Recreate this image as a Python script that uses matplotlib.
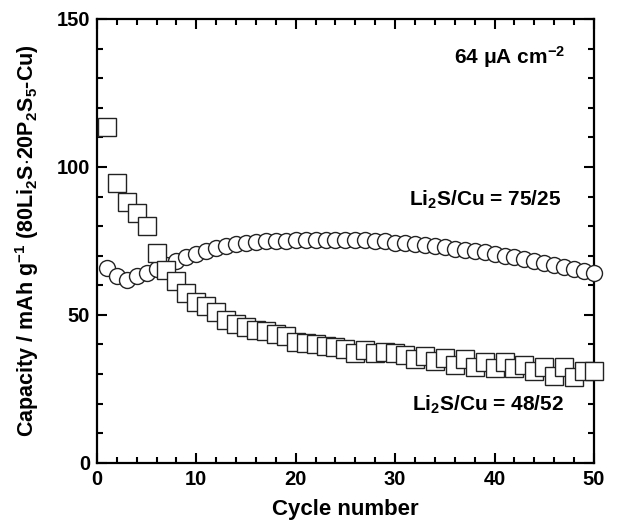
import matplotlib
matplotlib.use("Agg")
import matplotlib.pyplot as plt
import numpy as np
from matplotlib.ticker import MultipleLocator

plt.rcParams['font.family'] = ['Liberation Sans', 'DejaVu Sans']
plt.rcParams['font.weight'] = 'bold'
plt.rcParams['mathtext.fontset'] = 'custom'
plt.rcParams['mathtext.rm'] = 'Liberation Sans:bold'
plt.rcParams['mathtext.bf'] = 'Liberation Sans:bold'
plt.rcParams['mathtext.default'] = 'rm'

# cycle numbers
cycles = np.arange(1, 51)

# Li2S/Cu = 75/25 (circles)
cap_75_25 = [66.0, 63.3, 61.8, 63.0, 64.3, 65.5, 66.9, 68.2, 69.4, 70.6,
             71.6, 72.5, 73.3, 73.9, 74.4, 74.7, 74.9, 75.0, 75.1, 75.2,
             75.2, 75.3, 75.3, 75.4, 75.4, 75.4, 75.3, 75.1, 74.8, 74.4,
             74.2, 73.9, 73.5, 73.2, 72.9, 72.4, 72.0, 71.6, 71.1, 70.5,
             69.9, 69.4, 68.8, 68.2, 67.6, 67.0, 66.3, 65.6, 64.9, 64.2]

# Li2S/Cu = 48/52 (squares)
cap_48_52 = [113.5, 94.5, 88.0, 84.5, 80.0, 70.8, 65.2, 61.6, 57.3, 54.5,
             53.0, 51.1, 48.3, 47.0, 46.0, 45.0, 44.5, 43.5, 43.0, 41.0,
             40.5, 40.0, 39.5, 39.0, 38.5, 37.0, 38.0, 37.0, 37.5, 37.0,
             36.5, 35.0, 36.0, 34.5, 35.5, 33.0, 35.0, 32.5, 34.0, 32.0,
             34.0, 32.0, 33.0, 31.0, 32.5, 29.5, 32.5, 29.0, 31.0, 31.0]

fig = plt.figure(figsize=(6.21, 5.26), dpi=100)
ax = fig.add_axes([0.156, 0.12, 0.8005, 0.844])

ax.plot(cycles, cap_75_25, 'o', ms=11.5, mfc='white', mec='#222222', mew=1.0,
        clip_on=False, zorder=3)
ax.plot(cycles, cap_48_52, 's', ms=12.5, mfc='white', mec='#222222', mew=1.0,
        clip_on=False, zorder=3)

ax.set_xlim(0, 50)
ax.set_ylim(0, 150)
ax.xaxis.set_major_locator(MultipleLocator(10))
ax.xaxis.set_minor_locator(MultipleLocator(2))
ax.yaxis.set_major_locator(MultipleLocator(50))
ax.yaxis.set_minor_locator(MultipleLocator(10))
ax.tick_params(which='both', direction='in', top=True, right=True, width=1.5,
               labelsize=14.5, pad=5)
ax.tick_params(which='major', length=7)
ax.tick_params(which='minor', length=4)
for s in ax.spines.values():
    s.set_linewidth(1.6)

ax.set_xlabel('Cycle number', fontsize=16, fontweight='bold', labelpad=7)
ax.set_ylabel('Capacity / mAh g$^{-1}$ (80Li$_2$S$\\cdot$20P$_2$S$_5$-Cu)',
              fontsize=15.5, fontweight='bold', labelpad=11)

ax.text(41.5, 137, u'64 \u03bcA cm$^{-2}$', fontsize=15, fontweight='bold',
        ha='center', va='center')
ax.text(39.1, 89, 'Li$_2$S/Cu = 75/25', fontsize=15, fontweight='bold',
        ha='center', va='center')
ax.text(39.3, 19.5, 'Li$_2$S/Cu = 48/52', fontsize=15, fontweight='bold',
        ha='center', va='center')

fig.savefig('out.png', dpi=100)
